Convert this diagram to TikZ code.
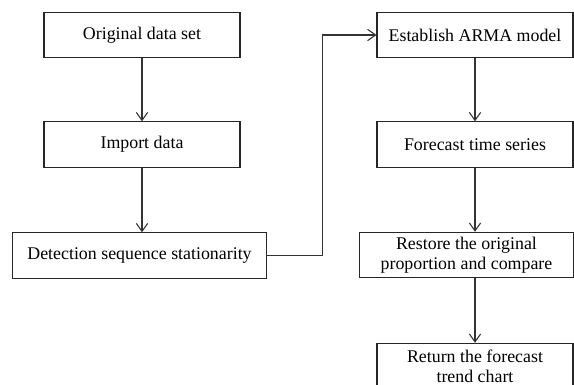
\documentclass[tikz,border=0pt]{standalone}
\usepackage{fontspec}
\setmainfont{Liberation Serif}
\usetikzlibrary{arrows.meta,positioning}

\begin{document}
\begin{tikzpicture}[
  x=0.75pt, y=-0.75pt,
  every node/.style={font=\fontsize{13.4}{15}\selectfont},
  box/.style={draw=black!85, line width=0.8pt, minimum width=147pt, minimum height=34pt, inner sep=1pt, align=center},
  arr/.style={-{Straight Barb[length=6pt,width=8.5pt]}, line width=0.8pt, draw=black!80}
]
  \useasboundingbox (0,0) rectangle (574,385);
  \node[box] (orig)   at (142,35)    {Original data set};
  \node[box] (import) at (142,144.5) {Import data};
  \node[box, minimum width=191pt] (detect) at (139.5,255.5) {Detection sequence stationarity};
  \node[box] (arma)   at (475,35)    {Establish ARMA model};
  \node[box] (fcast)  at (475,144.5) {Forecast time series};
  \node[box, minimum width=160pt] (restore) at (466.5,255) {Restore the original\\proportion and compare};
  \node[box] (chart)  at (475,366)   {Return the forecast\\trend chart};

  \draw[arr] (orig) -- (import);
  \draw[arr] (import.south) -- (import.south |- detect.north);
  \draw[arr] (detect.east) -- ++(55,0) |- (arma.west);
  \draw[arr] (fcast.south |- arma.south) -- (fcast.north);
  \draw[arr] (fcast.south) -- (fcast.south |- restore.north);
  \draw[arr] (chart.north |- restore.south) -- (chart.north);
\end{tikzpicture}
\end{document}
